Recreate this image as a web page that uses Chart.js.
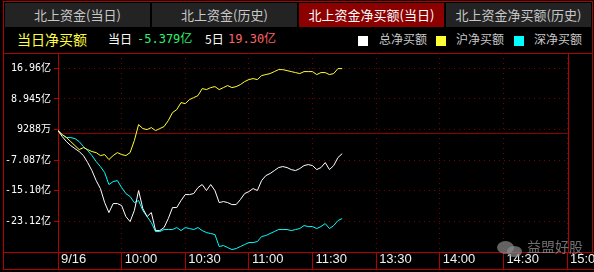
<!DOCTYPE html>
<html>
<head>
<meta charset="utf-8">
<script src="https://cdn.jsdelivr.net/npm/chart.js@4"></script>
<style>
body{margin:0;background:#000;width:594px;height:272px;overflow:hidden;position:relative;font-family:"Noto Sans CJK SC",sans-serif}
.ln{position:absolute;background:#b40000}
.tab{position:absolute;top:3px;height:24px;width:145px;line-height:24px;text-align:center;font-size:13px;color:#c8c8c8;background:#232323}
.tab.on{background:#8c0000;color:#fff}
.t{position:absolute;top:29px;line-height:20px;font-size:12px;white-space:nowrap}
.num{font-family:"DejaVu Sans Mono","Noto Sans CJK SC",monospace}
.sq{position:absolute;top:36px;width:10px;height:10px}
#wrap{position:absolute;left:3px;top:53px;width:591px;height:217px}
.wm{position:absolute;color:rgba(150,150,150,0.75);font-size:14px;left:527px;top:236px}
.bub{position:absolute;background:rgba(140,140,140,0.7);border-radius:50%}
</style>
</head>
<body>
<div class="ln" style="left:3px;top:1px;width:589px;height:1px"></div>
<div class="ln" style="left:3px;top:1px;width:1px;height:269px"></div>
<div class="ln" style="left:592px;top:1px;width:1px;height:252px"></div>
<div class="ln" style="left:3px;top:53px;width:590px;height:1px"></div>
<div class="ln" style="left:568px;top:53px;width:1px;height:199px"></div>
<div class="ln" style="left:3px;top:252px;width:591px;height:1px"></div>
<div class="ln" style="left:3px;top:269px;width:591px;height:1px"></div>

<div class="tab" style="left:5px">北上资金(当日)</div>
<div class="tab" style="left:152px">北上资金(历史)</div>
<div class="tab on" style="left:299px">北上资金净买额(当日)</div>
<div class="tab" style="left:446px">北上资金净买额(历史)</div>

<span class="t" style="left:17px;font-size:14px;color:#ffff40">当日净买额</span>
<span class="t" style="left:108px;color:#fff">当日</span>
<span class="t num" style="left:137px;color:#30f070">-5.379亿</span>
<span class="t" style="left:205px;color:#fff">5日</span>
<span class="t num" style="left:228px;color:#ff6464">19.30亿</span>

<div class="sq" style="left:358px;background:#fff"></div>
<span class="t" style="left:379px;color:#c8c8c8">总净买额</span>
<div class="sq" style="left:436px;background:#ffff33"></div>
<span class="t" style="left:456px;color:#c8c8c8">沪净买额</span>
<div class="sq" style="left:514px;background:#00ffff"></div>
<span class="t" style="left:534px;color:#c8c8c8">深净买额</span>

<div id="wrap"><canvas id="c" width="591" height="217"></canvas></div>

<div class="bub" style="left:497px;top:241px;width:17px;height:13px"></div>
<div class="bub" style="left:507px;top:246px;width:15px;height:11px"></div>
<span class="wm">益盟好股</span>

<script>
// trading minutes since 9:30 (every 2 min)
const minutes = [0, 2, 4, 6, 8, 10, 12, 14, 16, 18, 20, 22, 24, 26, 28, 30, 32, 34, 36, 38,
  40, 42, 44, 46, 48, 50, 52, 54, 56, 58, 60, 62, 64, 66, 68, 70, 72, 74, 76, 78,
  80, 82, 84, 86, 88, 90, 92, 94, 96, 98, 100, 102, 104, 106, 108, 110, 112, 114, 116, 118,
  120, 122, 124, 126, 128, 130, 132, 134];

// 亿元
const totalNet = [0.65, -0.92, -2.23, -3.27, -4.06, -4.84, -5.89, -7.72, -9.82, -12.44,
  -14.53, -18.20, -20.81, -18.46, -18.46, -18.98, -21.86, -23.17, -20.29, -15.05,
  -19.77, -21.86, -20.81, -25.53, -25.53, -24.74, -22.38, -19.50, -19.50, -17.67,
  -16.10, -16.10, -15.84, -14.27, -13.48, -15.05, -13.48, -15.05, -18.20, -17.93,
  -18.20, -18.72, -18.72, -17.41, -15.84, -15.32, -14.53, -15.05, -12.44, -11.13,
  -10.60, -9.82, -9.03, -8.77, -9.03, -9.56, -9.82, -9.29, -8.51, -8.25,
  -8.51, -9.56, -9.03, -7.72, -9.56, -8.51, -6.41, -5.379];

const shNet = [0.65, -0.39, -1.18, -2.23, -3.27, -4.32, -3.80, -4.32, -4.84, -5.11,
  -5.89, -5.63, -6.94, -5.89, -5.11, -5.63, -5.89, -5.11, -1.96, 2.23,
  1.18, 0.92, 1.44, 0.65, 1.18, 1.70, 3.27, 5.37, 6.15, 7.98,
  7.72, 8.77, 9.29, 9.82, 11.65, 11.39, 11.91, 12.17, 11.39, 11.91,
  12.44, 11.91, 12.17, 12.70, 13.48, 14.01, 14.27, 14.01, 15.05, 15.32,
  15.58, 16.10, 16.62, 16.62, 16.36, 16.10, 15.84, 15.58, 16.10, 16.10,
  16.10, 15.32, 15.84, 15.84, 15.32, 15.58, 16.89, 16.89];

const szNet = [0.65, -0.39, -1.18, -1.18, -1.44, -2.23, -3.53, -4.58, -5.89, -7.46,
  -8.77, -10.34, -13.48, -12.70, -12.44, -14.27, -15.84, -16.62, -18.20, -17.67,
  -20.29, -21.86, -23.43, -25.79, -25.79, -25.26, -25.26, -25.26, -24.74, -25.53,
  -24.74, -25.00, -25.26, -24.74, -25.53, -26.05, -26.31, -26.57, -29.71, -29.45,
  -29.98, -30.50, -30.24, -29.71, -29.19, -28.67, -28.67, -28.41, -27.10, -26.83,
  -26.31, -25.79, -25.26, -25.26, -25.26, -25.53, -25.26, -25.00, -24.22, -24.48,
  -24.48, -25.00, -24.48, -23.69, -25.00, -24.22, -22.91, -22.38];

const yTickValues = [-23.12, -15.10, -7.087, 0.9288, 8.945, 16.96];
const yTickLabels = ['-23.12亿', '-15.10亿', '-7.087亿', '9288万', '8.945亿', '16.96亿'];
const xTickValues = [0, 30, 60, 90, 120, 150, 180, 210, 240];
const xTickLabels = ['9/16', '10:00', '10:30', '11:00', '11:30', '13:30', '14:00', '14:30', '15:00'];

const frameRed = '#b40000';
const dotRed = '#7a0000';

function pts(vals) {
    return vals.map((v, i) => ({ x: minutes[i], y: v }));
}

// solid zero line across the plot
const zeroLine = {
    id: 'zeroLine',
    beforeDatasetsDraw(chart) {
        const { ctx, chartArea, scales } = chart;
        const y = Math.round(scales.y.getPixelForValue(0)) + 0.5;
        ctx.save();
        ctx.strokeStyle = '#8c0000';
        ctx.lineWidth = 1;
        ctx.beginPath();
        ctx.moveTo(chartArea.left, y);
        ctx.lineTo(chartArea.right, y);
        ctx.stroke();
        ctx.restore();
    }
};

new Chart(document.getElementById('c').getContext('2d'), {
    type: 'line',
    data: {
        datasets: [
            { label: '总净买额', data: pts(totalNet), borderColor: '#ffffff' },
            { label: '沪净买额', data: pts(shNet), borderColor: '#ffff33' },
            { label: '深净买额', data: pts(szNet), borderColor: '#00ffff' }
        ]
    },
    options: {
        responsive: false,
        animation: false,
        devicePixelRatio: 1,
        layout: { padding: { left: 0, right: 27, top: 0, bottom: 0 } },
        elements: {
            line: { borderWidth: 1, tension: 0 },
            point: { radius: 0 }
        },
        plugins: {
            legend: { display: false },
            tooltip: { enabled: false }
        },
        scales: {
            x: {
                type: 'linear',
                min: 0,
                max: 240,
                afterBuildTicks: s => { s.ticks = xTickValues.map(v => ({ value: v })); },
                afterFit: s => { s.height = 18; s.paddingLeft = 0; s.paddingRight = 0; },
                ticks: {
                    autoSkip: false,
                    maxRotation: 0,
                    align: 'start',
                    labelOffset: 3,
                    padding: -18,
                    color: '#f0f0f0',
                    font: { family: 'Liberation Sans', size: 13 },
                    callback: (v, i) => xTickLabels[i]
                },
                grid: { color: dotRed, tickColor: frameRed, tickLength: 18, tickBorderDash: [] },
                border: { color: frameRed, dash: [1, 4] }
            },
            y: {
                type: 'linear',
                min: -31.14,
                max: 20.97,
                afterBuildTicks: s => { s.ticks = yTickValues.map(v => ({ value: v })); },
                afterFit: s => { s.width = 55; s.paddingTop = 0; s.paddingBottom = 0; },
                ticks: {
                    autoSkip: false,
                    padding: 3,
                    color: '#ffffff',
                    font: { family: "'DejaVu Sans Mono', 'Noto Sans CJK SC'", size: 10 },
                    callback: (v, i) => yTickLabels[i]
                },
                grid: { color: dotRed, tickColor: frameRed, tickLength: 4, tickBorderDash: [] },
                border: { color: frameRed, dash: [1, 4] }
            }
        }
    },
    plugins: [zeroLine]
});
</script>
</body>
</html>
